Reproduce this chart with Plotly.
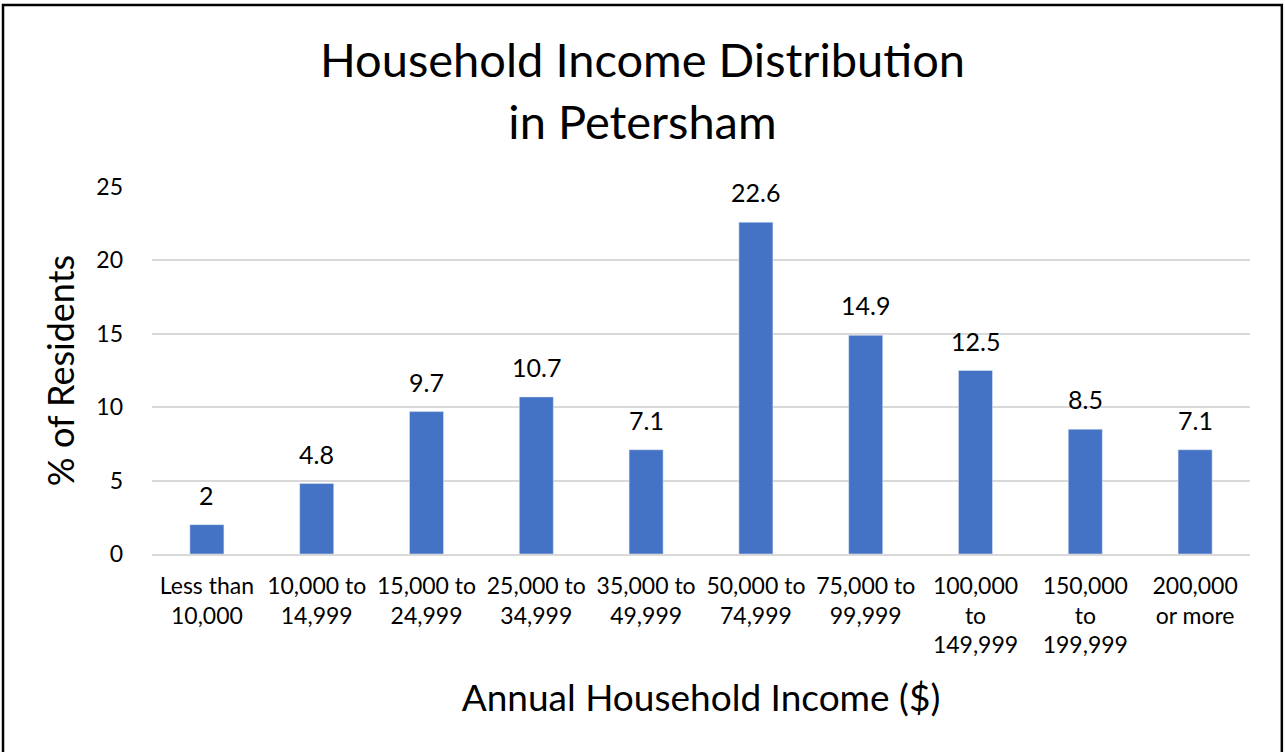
import plotly.graph_objects as go

# income brackets and share of residents (%)
categories = ['Less than<br>10,000', '10,000 to<br>14,999', '15,000 to<br>24,999',
              '25,000 to<br>34,999', '35,000 to<br>49,999', '50,000 to<br>74,999',
              '75,000 to<br>99,999', '100,000<br>to<br>149,999', '150,000<br>to<br>199,999',
              '200,000<br>or more']
values = [2, 4.8, 9.7, 10.7, 7.1, 22.6, 14.9, 12.5, 8.5, 7.1]
y_ticks = [0, 5, 10, 15, 20, 25]

FONT = 'Lato, Open Sans, sans-serif'

fig = go.Figure()
fig.add_trace(go.Bar(
    x=categories,
    y=values,
    width=0.31,
    marker_color='#4472C4',
    hoverinfo='skip'
))

# data labels above each bar
for c, v in zip(categories, values):
    fig.add_annotation(x=c, y=v, text=f'{v:g}', showarrow=False,
                       yanchor='bottom', yshift=13,
                       font=dict(size=25, color='#000000', family=FONT))

# outer frame (bottom edge runs off the page, as in the source image)
fig.add_shape(type='rect', xref='paper', yref='paper',
              x0=-0.1357, x1=1.029, y0=-0.6, y1=1.496,
              line=dict(color='#000000', width=2.5))

fig.update_layout(
    width=1285, height=752,
    margin=dict(l=152, r=35, t=187, b=198),
    paper_bgcolor='white',
    plot_bgcolor='white',
    showlegend=False,
    font=dict(family=FONT, color='#000000'),
    title=dict(text='Household Income Distribution<br>in Petersham',
               x=0.5, xanchor='center', y=0.897, yanchor='middle',
               font=dict(size=47, family=FONT, color='#000000')),
    xaxis=dict(
        title=dict(text='Annual Household Income ($)', standoff=28,
                   font=dict(size=37, family=FONT)),
        tickfont=dict(size=23, family=FONT),
        showline=True, linecolor='#d9d9d9', linewidth=2,
        ticks='', ticklabelstandoff=10
    ),
    yaxis=dict(
        title=dict(text='% of Residents', standoff=10,
                   font=dict(size=36, family=FONT)),
        range=[0, 25],
        tickvals=y_ticks,
        tickfont=dict(size=23, family=FONT),
        showgrid=True, gridcolor='#d9d9d9', gridwidth=1.5,
        zeroline=False, ticks='', ticklabelstandoff=28
    ),
)

# page body has a default 8px margin; drop it so the figure sits at the corner
fig.write_html('out.html', config={'displayModeBar': False},
               post_script="document.body.style.margin='0';")
